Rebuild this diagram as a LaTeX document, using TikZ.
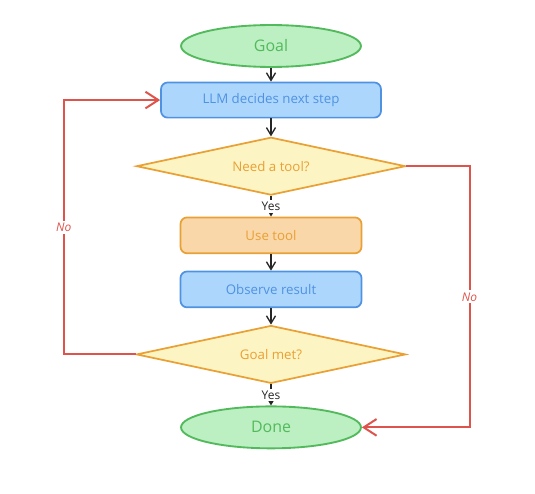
\documentclass[tikz,border=0pt]{standalone}
\usepackage{fontspec}
\setmainfont{Open Sans}
\usepackage{tikz}
\usetikzlibrary{arrows.meta,shapes.geometric,positioning}
\usepackage{xcolor}
\definecolor{exgreen}{RGB}{82,186,92}
\definecolor{exgreenfill}{RGB}{188,239,193}
\definecolor{exblue}{RGB}{79,146,226}
\definecolor{exbluefill}{RGB}{173,214,252}
\definecolor{exyellow}{RGB}{233,160,52}
\definecolor{exyellowfill}{RGB}{253,244,195}
\definecolor{exorangefill}{RGB}{249,215,169}
\definecolor{exred}{RGB}{222,84,76}
\tikzstyle{flow} = [line width=1pt,-{Straight Barb[length=2mm,width=2.4mm]},color=black!85]
\tikzstyle{loopback} = [line width=1.5pt,-{Straight Barb[length=3.4mm,width=4.4mm]},color=exred]
\tikzstyle{terminal} = [ellipse, minimum width=4.76cm, minimum height=1.11cm, inner sep=0pt, draw=exgreen, fill=exgreenfill, text=exgreen, line width=1.4pt, font=\large]
\tikzstyle{process} = [rectangle, rounded corners=5pt, minimum width=4.79cm, minimum height=0.95cm, text centered, draw=exblue, fill=exbluefill, text=exblue, line width=1.3pt]
\tikzstyle{decision} = [diamond, aspect=4.6, minimum width=7.12cm, minimum height=1.53cm, inner sep=0pt, draw=exyellow, fill=exyellowfill, text=exyellow, line width=1.3pt]
\tikzstyle{edgelabel} = [fill=white, inner sep=1.5pt, font=\small]

\begin{document}
\begin{tikzpicture}
\useasboundingbox (-7.17,1.217) rectangle (6.985,-11.853);
% Main column
\node (goal) [terminal] {Goal};
\node (decide) [process, below of=goal, node distance=1.43cm, minimum width=5.82cm, minimum height=0.93cm] {LLM decides next step};
\node (needtool) [decision, below of=decide, node distance=1.75cm] {Need a tool?};
\node (usetool) [process, below of=needtool, node distance=1.83cm, draw=exyellow, fill=exorangefill, text=exyellow] {Use tool};
\node (observe) [process, below of=usetool, node distance=1.43cm] {Observe result};
\node (goalmet) [decision, below of=observe, node distance=1.72cm] {Goal met?};
\node (done) [terminal, below of=goalmet, node distance=1.93cm] {Done};

% Forward flow
\draw[flow] (goal) -- (decide);
\draw[flow] (decide) -- (needtool);
\draw[flow] (needtool) -- node[edgelabel] {Yes} (usetool);
\draw[flow] (usetool) -- (observe);
\draw[flow] (observe) -- (goalmet);
\draw[flow] (goalmet) -- node[edgelabel] {Yes} (done);

% The two No branches
\draw[loopback] (goalmet.west) -- ++(-1.9cm,0) |- node[pos=0.25, edgelabel, text=exred, font=\small\itshape] {No} (decide.west);
\draw[loopback] (needtool.east) -- ++(1.67cm,0) |- node[pos=0.25, edgelabel, text=exred, font=\small\itshape] {No} (done.east);
\end{tikzpicture}
\end{document}
